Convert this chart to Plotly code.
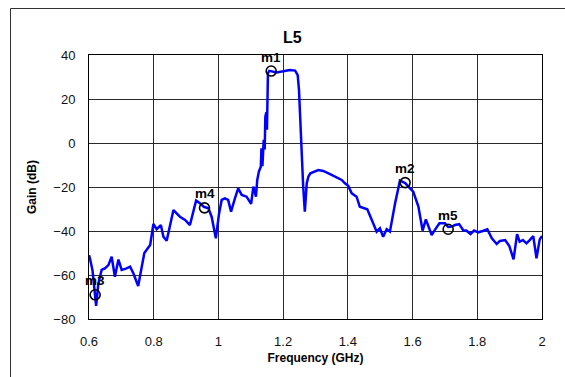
import plotly.graph_objects as go

# Measured gain sweep
freq_ghz = [0.600, 0.603, 0.611, 0.619, 0.622, 0.629, 0.639, 0.649, 0.660, 0.670,
            0.680, 0.691, 0.701, 0.716, 0.727, 0.737, 0.752, 0.771, 0.789, 0.799,
            0.809, 0.822, 0.830, 0.840, 0.861, 0.881, 0.897, 0.912, 0.931, 0.943,
            0.955, 0.969, 0.979, 0.992, 1.002, 1.010, 1.020, 1.030, 1.039, 1.051,
            1.061, 1.072, 1.087, 1.101, 1.108, 1.116, 1.120, 1.125, 1.131, 1.133,
            1.136, 1.140, 1.143, 1.145, 1.148, 1.150, 1.153, 1.157, 1.170, 1.180,
            1.200, 1.221, 1.237, 1.245, 1.249, 1.252, 1.257, 1.262, 1.267, 1.273,
            1.278, 1.284, 1.309, 1.324, 1.345, 1.365, 1.381, 1.391, 1.401, 1.412,
            1.427, 1.437, 1.448, 1.460, 1.474, 1.489, 1.499, 1.509, 1.520, 1.530,
            1.546, 1.561, 1.577, 1.602, 1.618, 1.631, 1.641, 1.659, 1.669, 1.683,
            1.700, 1.710, 1.721, 1.731, 1.744, 1.757, 1.766, 1.779, 1.790, 1.803,
            1.817, 1.831, 1.845, 1.860, 1.870, 1.886, 1.899, 1.912, 1.923, 1.931,
            1.941, 1.952, 1.962, 1.973, 1.983, 1.993, 2.000]
gain_db = [-51.0, -52.5, -58.0, -68.0, -74.0, -63.8, -57.7, -57.0, -55.5, -51.7,
           -60.8, -53.0, -57.7, -57.0, -56.2, -59.2, -65.0, -50.0, -46.4, -36.8,
           -39.2, -37.3, -42.6, -44.4, -30.5, -33.5, -35.0, -37.3, -26.2, -27.4,
           -29.0, -29.7, -33.5, -43.3, -32.0, -25.9, -25.2, -25.9, -31.2, -25.2,
           -20.6, -23.6, -24.4, -27.7, -19.8, -24.4, -16.8, -13.0, -10.8, -2.4,
           -10.5, 1.4, -3.0, 12.0, 14.0, 6.0, 31.7, 32.8, 32.3, 32.1,
           32.6, 33.2, 32.9, 30.9, 24.0, 12.0, -6.2, -19.8, -31.2, -18.3,
           -15.3, -13.8, -12.3, -12.7, -14.1, -15.5, -16.8, -18.3, -19.5, -22.9,
           -24.4, -29.0, -29.7, -30.1, -35.0, -40.3, -38.8, -42.6, -39.2, -40.3,
           -27.4, -17.1, -18.2, -22.1, -28.9, -39.8, -34.7, -41.8, -39.5, -36.5,
           -36.5, -38.2, -38.0, -37.3, -36.9, -39.8, -39.8, -41.4, -39.8, -40.6,
           -40.0, -39.2, -43.3, -45.9, -44.5, -44.1, -46.8, -52.9, -41.4, -44.9,
           -44.1, -45.6, -44.1, -42.3, -52.4, -43.8, -42.3]

# Marker readouts
marker_names = ["m1", "m2", "m3", "m4", "m5"]
marker_freq = [1.163, 1.577, 0.619, 0.957, 1.710]
marker_gain = [32.7, -18.0, -69.0, -29.5, -39.2]

x_ticks = [0.6, 0.8, 1.0, 1.2, 1.4, 1.6, 1.8, 2.0]
x_tick_text = ["0.6", "0.8", "1", "1.2", "1.4", "1.6", "1.8", "2"]
y_ticks = [-80, -60, -40, -20, 0, 20, 40]

FONT = "Liberation Sans, Arial, sans-serif"

# Plot area in pixels, used to place paper-referenced items
PX_L, PX_R, PX_T, PX_B = 89, 542, 55, 319
PW, PH = PX_R - PX_L, PX_B - PX_T


def px_x(px):
    return (px - PX_L) / PW


def px_y(py):
    return (PX_B - py) / PH


fig = go.Figure()
fig.add_trace(go.Scatter(
    x=freq_ghz, y=gain_db, mode="lines",
    line=dict(color="#0000ff", width=2.5),
    hoverinfo="x+y", showlegend=False,
))
fig.add_trace(go.Scatter(
    x=marker_freq, y=marker_gain, mode="markers",
    marker=dict(symbol="circle-open", size=10, color="#000000",
                line=dict(color="#000000", width=1.6)),
    showlegend=False,
))
for name, fx, gy in zip(marker_names, marker_freq, marker_gain):
    fig.add_annotation(
        x=fx, y=gy, text="<b>%s</b>" % name, showarrow=False,
        yshift=14, font=dict(family=FONT, size=13.5, color="#000000"),
    )

# Title
fig.add_annotation(
    x=px_x(292), y=px_y(37), xref="paper", yref="paper",
    xanchor="center", yanchor="middle",
    text="<b>L5</b>", showarrow=False,
    font=dict(family=FONT, size=16, color="#000000"),
)

# Outer frame (top and left edges)
fig.add_shape(type="line", xref="paper", yref="paper",
              x0=px_x(10.5), x1=px_x(10.5), y0=px_y(380), y1=px_y(8.5),
              line=dict(color="#333333", width=1))
fig.add_shape(type="line", xref="paper", yref="paper",
              x0=px_x(10.5), x1=px_x(570), y0=px_y(8.5), y1=px_y(8.5),
              line=dict(color="#333333", width=1))

axis_common = dict(
    showgrid=True, gridcolor="#2a2a2a", gridwidth=1,
    showline=True, linecolor="#000000", linewidth=1, mirror=True,
    zeroline=False, ticks="", ticklabelstandoff=10,
    tickfont=dict(family=FONT, size=13, color="#111111"),
)

fig.update_xaxes(
    range=[0.6, 2.0], tickvals=x_ticks, ticktext=x_tick_text,
    title=dict(text="<b>Frequency (GHz)</b>", standoff=6,
               font=dict(family=FONT, size=12, color="#000000")),
    **axis_common,
)
fig.update_yaxes(
    range=[-80, 40], tickvals=y_ticks,
    title=dict(text="<b>Gain (dB)</b>", standoff=14,
               font=dict(family=FONT, size=12, color="#000000")),
    **axis_common,
)

fig.update_layout(
    width=565, height=377,
    margin=dict(l=PX_L, r=565 - PX_R, t=PX_T, b=377 - PX_B),
    paper_bgcolor="#ffffff", plot_bgcolor="#ffffff",
    font=dict(family=FONT),
)

fig.write_html("out.html")
